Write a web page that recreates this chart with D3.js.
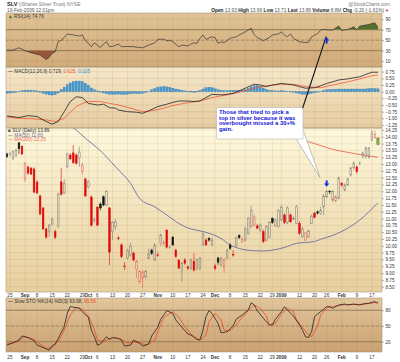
<!DOCTYPE html>
<html>
<head>
<meta charset="utf-8">
<script src="https://cdn.jsdelivr.net/npm/d3@7"></script>
<style>
    body { margin: 0; background: #fff; }
    svg { display: block; font-family: "Liberation Sans", Arial, sans-serif; }
</style>
</head>
<body>
<div id="chart"></div>
<script>
// trading calendar
var firstDay = "2008-08-22", lastDay = "2009-02-19";
var holidays = ["2008-09-01", "2008-11-27", "2008-12-25", "2009-01-01", "2009-01-19", "2009-02-16"];

// daily candles, one value per trading day
var opens = [13.37, 13.35, 13.22, 13.30, 13.78, 13.64, 12.45, 12.89, 12.85, 12.82,
    12.34, 11.83, 11.39, 10.62, 10.52, 10.80, 10.52, 10.70, 12.35, 11.94,
    12.90, 13.33, 13.41, 13.33, 13.22, 12.72, 12.45, 12.16, 11.79, 10.93,
    11.42, 11.53, 11.80, 11.50, 11.39, 10.52, 10.70, 10.29, 10.03, 9.26,
    9.55, 9.66, 9.73, 9.14, 8.68, 8.82, 8.86, 9.55, 9.84, 9.48,
    9.67, 10.09, 10.11, 10.58, 9.94, 10.32, 9.84, 9.48, 9.05, 9.48,
    9.23, 9.18, 9.42, 9.18, 9.18, 10.03, 10.21, 10.27, 10.03, 9.26,
    9.55, 9.29, 9.22, 9.55, 10.03, 9.68, 10.03, 10.38, 10.17, 10.21,
    10.46, 10.70, 10.76, 10.73, 10.58, 10.52, 10.21, 10.31, 11.01, 10.73,
    10.70, 10.95, 11.13, 10.85, 11.13, 11.00, 10.83, 10.82, 10.33, 10.21,
    10.33, 10.83, 11.20, 11.25, 11.19, 11.43, 11.80, 12.00, 11.68, 11.65,
    11.75, 12.29, 12.05, 12.23, 12.60, 12.86, 12.89, 13.03, 13.27, 13.27,
    13.26, 13.88, 13.96, 13.93];
var highs = [13.42, 13.45, 13.50, 13.55, 13.82, 13.70, 13.05, 12.95, 12.90, 12.88,
    12.40, 11.88, 11.42, 10.66, 10.80, 11.05, 10.60, 11.95, 12.86, 12.45,
    13.42, 13.40, 13.70, 13.40, 13.64, 13.04, 12.50, 12.40, 11.85, 11.05,
    11.45, 11.60, 11.85, 12.05, 11.42, 10.90, 10.98, 10.35, 10.10, 9.40,
    9.90, 10.10, 9.80, 9.48, 9.10, 9.11, 9.12, 9.90, 9.90, 10.10,
    9.75, 10.45, 10.20, 10.60, 10.00, 10.35, 9.90, 9.50, 9.40, 9.55,
    9.27, 9.55, 9.73, 9.55, 9.60, 10.50, 10.28, 10.32, 10.30, 9.35,
    9.60, 9.60, 9.55, 9.90, 10.10, 9.84, 10.35, 10.42, 10.30, 10.70,
    11.05, 11.46, 11.15, 10.80, 10.82, 10.60, 10.75, 10.90, 11.05, 11.00,
    11.35, 11.50, 11.20, 11.45, 11.20, 11.08, 11.50, 10.90, 10.70, 10.50,
    10.60, 11.15, 11.25, 11.30, 11.43, 11.90, 12.05, 12.05, 12.05, 11.85,
    12.55, 12.35, 12.30, 12.50, 12.90, 13.10, 12.95, 13.10, 13.45, 13.65,
    13.62, 14.25, 14.23, 13.96];
var lows = [13.22, 13.30, 13.15, 13.28, 13.37, 13.33, 12.35, 12.60, 12.60, 11.93,
    11.90, 11.12, 10.58, 10.26, 10.33, 10.75, 10.25, 10.65, 11.85, 11.90,
    12.85, 13.15, 13.00, 12.98, 12.90, 12.60, 11.80, 12.10, 10.70, 10.85,
    10.72, 11.30, 11.45, 11.45, 9.29, 10.21, 10.58, 10.20, 9.55, 9.11,
    9.50, 9.60, 9.42, 8.81, 8.60, 8.45, 8.80, 9.50, 9.66, 9.45,
    9.60, 10.00, 10.00, 9.90, 9.90, 10.00, 9.55, 9.15, 8.68, 9.30,
    9.12, 9.12, 9.05, 9.10, 9.10, 10.00, 10.00, 10.15, 9.98, 9.10,
    9.30, 9.25, 9.00, 9.50, 9.85, 9.60, 9.95, 10.25, 10.10, 10.15,
    10.40, 10.65, 10.70, 10.60, 10.50, 10.10, 10.15, 10.28, 10.80, 10.70,
    10.65, 10.90, 10.80, 10.80, 10.85, 10.95, 10.80, 10.40, 10.30, 10.18,
    10.30, 10.80, 11.00, 11.15, 11.13, 11.13, 11.75, 11.90, 11.60, 11.60,
    11.70, 12.15, 12.00, 12.20, 12.55, 12.80, 12.65, 12.95, 13.20, 13.20,
    13.20, 13.85, 13.94, 13.71];
var closes = [13.27, 13.37, 13.45, 13.49, 13.56, 13.37, 13.04, 12.67, 12.63, 11.97,
    11.94, 11.17, 10.62, 10.32, 10.76, 10.97, 10.31, 11.90, 11.88, 12.30,
    13.37, 13.19, 13.05, 13.03, 13.44, 12.96, 11.83, 12.35, 10.76, 10.95,
    10.76, 11.39, 11.50, 11.99, 9.77, 10.85, 10.88, 10.27, 9.60, 9.25,
    9.84, 9.99, 9.48, 9.42, 9.05, 9.04, 9.05, 9.70, 9.72, 10.03,
    9.66, 10.40, 10.12, 9.95, 9.96, 10.03, 9.60, 9.18, 9.37, 9.36,
    9.18, 9.48, 9.11, 9.48, 9.55, 10.43, 10.03, 10.21, 10.21, 9.18,
    9.40, 9.55, 9.48, 9.84, 9.91, 9.66, 10.29, 10.30, 10.25, 10.62,
    11.02, 11.31, 11.06, 10.65, 10.76, 10.15, 10.70, 10.85, 10.86, 10.95,
    11.31, 11.42, 10.85, 11.39, 10.88, 11.01, 11.43, 10.46, 10.62, 10.47,
    10.52, 11.09, 11.05, 11.20, 11.31, 11.83, 11.99, 11.99, 11.99, 11.80,
    12.49, 12.23, 12.23, 12.45, 12.86, 13.04, 12.72, 13.04, 13.41, 13.59,
    13.59, 14.14, 14.09, 13.89];

// moving averages, read as [day index, value]
var ma50 = [[19, 14.7], [21, 14.43], [23, 14.25], [26, 13.95], [31, 13.49], [36, 12.9], [41, 12.29],
    [44, 11.74], [49, 11.43], [53, 11.13], [57, 10.82], [61, 10.62], [64, 10.55], [67, 10.46],
    [71, 10.27], [74, 10.03], [76, 9.94], [78, 9.87], [82, 9.82], [85, 9.81], [88, 9.84],
    [92, 9.94], [96, 10.09], [102, 10.16], [104, 10.24], [108, 10.38], [113, 10.65],
    [117, 10.95], [120, 11.25], [123, 11.58]];
var ma200 = [[78, 14.7], [85, 14.4], [90, 14.2], [96, 13.97], [100, 13.82], [104, 13.68],
    [108, 13.54], [113, 13.43], [118, 13.33], [123, 13.25]];

// RSI(14) as [day index, value]
var rsi = [[0, 31], [2, 31], [4, 35.5], [6, 30], [8, 26], [11, 21.5], [13, 13], [14, 17], [15, 25],
    [16, 28], [17, 47], [18, 50], [19, 55], [20, 62], [22, 60], [24, 58], [25, 60], [26, 49],
    [27, 44], [28, 37.5], [29, 45], [31, 36], [32, 42.6], [33, 47], [34, 37.5], [35, 38],
    [37, 42.6], [38, 37.5], [40, 38], [42, 37.5], [44, 36], [45, 35.5], [47, 40.7], [49, 45],
    [50, 51.6], [52, 52], [53, 49], [54, 50], [55, 47], [57, 37.5], [58, 40.7], [60, 39],
    [61, 42.6], [62, 45], [63, 44], [64, 53.5], [65, 60], [66, 51.6], [68, 56.6], [69, 55],
    [70, 44], [71, 47], [72, 45.5], [74, 53.5], [76, 56.6], [77, 60], [79, 66], [81, 72.7],
    [82, 60.4], [83, 55], [85, 49], [87, 55], [88, 60], [90, 62], [91, 66], [92, 60],
    [93, 56.6], [94, 62], [95, 53.5], [97, 47], [99, 45.5], [100, 46], [101, 56.6],
    [103, 62.6], [104, 69.5], [105, 70.7], [107, 69.5], [108, 69.5], [110, 77], [111, 68.6],
    [113, 70.7], [114, 72.7], [115, 75.8], [116, 69.5], [117, 77], [119, 79], [120, 80],
    [121, 82], [122, 83], [123, 74.76]];

// MACD(12,26,9)
var macdLine = [[0, -0.91], [4, -0.97], [7, -0.9], [10, -0.93], [13, -1.12], [15, -1.22], [17, -1.12],
    [19, -0.75], [21, -0.37], [23, -0.19], [25, -0.22], [27, -0.44], [30, -0.5], [32, -0.47],
    [34, -0.6], [36, -0.62], [37, -0.69], [40, -0.75], [43, -0.77], [45, -0.81], [47, -0.72],
    [50, -0.56], [53, -0.47], [55, -0.4], [57, -0.35], [60, -0.35], [62, -0.37], [64, -0.35],
    [66, -0.22], [68, -0.1], [71, -0.12], [73, -0.1], [75, -0.06], [77, 0.03], [79, 0.13],
    [82, 0.28], [84, 0.25], [86, 0.19], [88, 0.25], [91, 0.31], [93, 0.28], [95, 0.25],
    [97, 0.19], [99, 0.13], [102, 0.15], [104, 0.22], [106, 0.31], [108, 0.37], [110, 0.44],
    [113, 0.48], [115, 0.52], [117, 0.56], [119, 0.65], [121, 0.73], [123, 0.729]];
var macdSignal = [[0, -0.94], [4, -1.0], [9, -1.02], [13, -1.06], [16, -1.12], [19, -1.0], [21, -0.77],
    [23, -0.56], [25, -0.44], [27, -0.37], [31, -0.37], [34, -0.44], [37, -0.5], [42, -0.65],
    [45, -0.75], [48, -0.72], [52, -0.62], [55, -0.52], [60, -0.41], [64, -0.35], [68, -0.22],
    [73, -0.12], [77, -0.02], [82, 0.13], [86, 0.22], [91, 0.28], [95, 0.28], [99, 0.19],
    [104, 0.15], [108, 0.25], [113, 0.37], [117, 0.48], [121, 0.6], [123, 0.625]];
var macdHist = [-0.06, -0.05, -0.03, -0.01,
    0.02, 0.04, 0.05, 0.06, 0.05, 0.04, 0.03,
    -0.02, -0.06, -0.09, -0.12, -0.13, -0.11, -0.05,
    0.08, 0.17, 0.26, 0.33, 0.38, 0.40, 0.40, 0.38, 0.32, 0.24,
    0.14, 0.07, 0.03,
    -0.02, -0.05, -0.08, -0.1, -0.11, -0.1, -0.09, -0.1, -0.11, -0.1, -0.08, -0.07, -0.07, -0.08, -0.06, -0.04,
    0.02, 0.07, 0.12, 0.16, 0.18, 0.19, 0.18, 0.16, 0.13,
    0.1, 0.07, 0.05, 0.03, 0.02, 0.01, 0.0, 0.01,
    0.05, 0.1, 0.15, 0.17, 0.15, 0.11, 0.07,
    0.05, 0.04, 0.04, 0.05, 0.05, 0.05, 0.05, 0.06, 0.08, 0.12,
    0.18, 0.22, 0.22, 0.19, 0.14, 0.09,
    0.05, 0.04, 0.03, 0.03, 0.04, 0.03, 0.02, 0.01, -0.02,
    -0.05, -0.08, -0.1, -0.1, -0.09, -0.07, -0.04, -0.02,
    0.02, 0.05, 0.07, 0.08, 0.09, 0.09, 0.1, 0.1, 0.1, 0.1, 0.1, 0.1, 0.1, 0.1, 0.1, 0.1, 0.11, 0.11, 0.11, 0.105];

// Slow stochastics
var stoK = [[0, 13.6], [2, 18], [4, 23], [5, 31], [7, 28], [9, 22], [10, 13.6], [12, 9], [14, 4], [15, 11.7],
    [16, 15.5], [17, 26], [19, 48.7], [20, 74], [21, 87], [22, 86], [24, 84], [25, 77], [27, 66.7],
    [28, 42], [29, 29.5], [30, 13.6], [31, 15.5], [33, 29.5], [34, 24.5], [35, 28], [37, 26],
    [38, 23], [39, 11.7], [41, 13.6], [42, 23], [44, 17], [45, 11.7], [47, 15.5], [48, 31],
    [50, 47.5], [51, 63], [53, 79.3], [55, 74], [56, 61.5], [58, 47.5], [60, 34.7], [61, 32.8],
    [63, 24.5], [64, 23.5], [65, 42], [66, 68], [67, 79.3], [68, 74], [70, 55], [71, 37],
    [73, 39], [75, 50], [76, 63], [78, 71], [80, 80.6], [81, 94.6], [82, 90], [83, 79.3],
    [85, 64.7], [87, 52], [88, 52], [89, 63], [91, 77.4], [92, 87], [93, 80.6], [95, 69],
    [97, 52], [98, 42], [99, 29.5], [100, 28], [101, 39], [102, 68], [104, 77.4], [106, 87],
    [107, 87], [108, 84], [110, 90], [112, 92], [113, 90], [115, 92], [117, 90], [118, 92],
    [120, 93.5], [122, 96.6], [123, 93.08]];
var stoD = [[0, 15.5], [2, 17], [4, 22], [6, 29.5], [9, 24.5], [11, 15.5], [13, 7], [15, 10], [17, 20],
    [19, 42], [21, 71], [23, 86], [25, 82], [27, 69], [29, 43.7], [30, 23], [32, 20], [34, 26],
    [36, 28], [38, 24.5], [40, 17], [42, 20], [44, 18], [46, 13.6], [49, 23], [50, 39],
    [52, 66.7], [55, 77.4], [57, 66.7], [59, 48.7], [61, 34.7], [63, 26], [64, 23], [66, 32.8],
    [67, 58], [69, 74], [71, 61.5], [72, 42], [74, 41], [76, 52], [78, 66.7], [80, 79.3],
    [82, 90], [84, 84], [86, 69], [87, 52], [89, 55], [91, 73], [93, 84], [95, 77.4],
    [96, 61.5], [98, 47.5], [100, 32.8], [101, 29.5], [103, 50], [104, 71], [106, 84],
    [108, 87], [111, 90], [113, 91], [116, 91], [119, 92], [122, 94.6], [123, 95.56]];

// axis ticks
var tickDates = ["2008-08-25", "2008-09-02", "2008-09-08", "2008-09-15", "2008-09-22", "2008-09-29",
    "2008-10-01", "2008-10-06", "2008-10-13", "2008-10-20", "2008-10-27", "2008-11-03", "2008-11-10",
    "2008-11-17", "2008-11-24", "2008-12-01", "2008-12-08", "2008-12-15", "2008-12-22", "2008-12-29",
    "2009-01-02", "2009-01-12", "2009-01-20", "2009-01-26", "2009-02-02", "2009-02-09", "2009-02-17"];
var tickLabels = ["25", "Sep", "8", "15", "22", "29", "Oct", "6", "13", "20", "27", "Nov", "10",
    "17", "24", "Dec", "8", "15", "22", "29", "2009", "12", "20", "26", "Feb", "9", "17"];
var priceTicks = [14.25, 14.00, 13.75, 13.50, 13.25, 13.00, 12.75, 12.50, 12.25, 12.00, 11.75, 11.50,
    11.25, 11.00, 10.75, 10.50, 10.25, 10.00, 9.75, 9.50, 9.25, 9.00, 8.75, 8.50];
var macdTicks = [0.75, 0.50, 0.25, 0.00, -0.25, -0.50, -0.75, -1.00, -1.25];
var rsiTicks = [90, 70, 50, 30, 10];
var stoTicks = [80, 50, 20];

var noteLines = ["Those that tried to pick a", "top in silver because it was", "overbought missed a 30+%", "gain."];

var fmt = d3.timeFormat("%Y-%m-%d");
var days = d3.timeDay.range(d3.timeParse("%Y-%m-%d")(firstDay), d3.timeDay.offset(d3.timeParse("%Y-%m-%d")(lastDay), 1))
    .filter(function (d) { return d.getDay() !== 0 && d.getDay() !== 6 && holidays.indexOf(fmt(d)) < 0; })
    .map(fmt);

var left = 6, right = 382;
var svg = d3.select("#chart").append("svg").attr("width", 400).attr("height", 362);
var defs = svg.append("defs");

var x = d3.scaleBand().domain(days).range([5.8, 5.8 + days.length * 3.01]).paddingInner(0.27);
var bw = x.bandwidth();
function xi(i) { return x(days[i]) + bw / 2; }

var yRsi = d3.scaleLinear().domain([0, 100]).range([66.3, 14.1]);
var yMacd = d3.scaleLinear().domain([-1.25, 0.75]).range([125, 71.7]);
var yPrice = d3.scaleLinear().domain([8.5, 14.25]).range([286.7, 130]);
var ySto = d3.scaleLinear().domain([0, 100]).range([352.2, 299.8]);

var panels = [
    {id: "rsi", top: 13, bottom: 67, c0: "#e0c397", c1: "#d1aa79", y: yRsi, ticks: rsiTicks, f: d3.format("d")},
    {id: "macd", top: 67, bottom: 128, c0: "#f5e7c9", c1: "#e6cda2", y: yMacd, ticks: macdTicks, f: d3.format(".2f")},
    {id: "price", top: 128, bottom: 292, c0: "#fdf8dc", c1: "#e8cf9e", y: yPrice, ticks: priceTicks, f: d3.format(".2f")},
    {id: "sto", top: 298, bottom: 352, c0: "#e1c69c", c1: "#caa171", y: ySto, ticks: stoTicks, f: d3.format("d")}
];

var layer = {};
panels.forEach(function (p) {
    var g = defs.append("linearGradient").attr("id", "bg-" + p.id).attr("x1", 0).attr("y1", 0).attr("x2", 0).attr("y2", 1);
    g.append("stop").attr("offset", "0%").attr("stop-color", p.c0);
    g.append("stop").attr("offset", "100%").attr("stop-color", p.c1);
    defs.append("clipPath").attr("id", "clip-" + p.id).append("rect")
        .attr("x", left).attr("y", p.top).attr("width", right - left).attr("height", p.bottom - p.top);

    svg.append("rect")
        .attr("x", left).attr("y", p.top).attr("width", right - left).attr("height", p.bottom - p.top)
        .attr("fill", "url(#bg-" + p.id + ")");

    var grid = svg.append("g").attr("clip-path", "url(#clip-" + p.id + ")");
    grid.selectAll("line.v").data(tickDates).enter().append("line")
        .attr("x1", function (d) { return x(d) + bw / 2; })
        .attr("x2", function (d) { return x(d) + bw / 2; })
        .attr("y1", p.top).attr("y2", p.bottom)
        .attr("stroke", "#8a6a3a").attr("stroke-opacity", 0.18).attr("stroke-width", 0.6);
    grid.selectAll("line.h").data(p.ticks).enter().append("line")
        .attr("x1", left).attr("x2", right)
        .attr("y1", function (d) { return p.y(d); })
        .attr("y2", function (d) { return p.y(d); })
        .attr("stroke", "#8a6a3a").attr("stroke-opacity", 0.18).attr("stroke-width", 0.6);

    layer[p.id] = svg.append("g").attr("clip-path", "url(#clip-" + p.id + ")");

    var ax = svg.append("g").attr("transform", "translate(" + right + ",0)")
        .call(d3.axisRight(p.y).tickValues(p.ticks).tickFormat(p.f).tickSize(2).tickPadding(1.5));
    ax.select(".domain").remove();
    ax.selectAll("line").attr("stroke", "#666").attr("stroke-width", 0.5);
    ax.selectAll("text").attr("font-size", "4.6px").attr("fill", "#333").attr("font-family", "Liberation Sans, Arial, sans-serif");
});

// reference lines for oscillators
function refLines(g, y, lo, hi) {
    [lo, hi].forEach(function (v) {
        g.append("line").attr("x1", left).attr("x2", right).attr("y1", y(v)).attr("y2", y(v))
            .attr("stroke", "#8c7457").attr("stroke-width", 0.8);
    });
    g.append("line").attr("x1", left).attr("x2", right).attr("y1", y(50)).attr("y2", y(50))
        .attr("stroke", "#8c7457").attr("stroke-width", 0.6).attr("stroke-dasharray", "3,2");
}

// RSI
var gR = layer.rsi;
refLines(gR, yRsi, 30, 70);
defs.append("clipPath").attr("id", "rsi-hi").append("rect")
    .attr("x", left).attr("y", 13).attr("width", right - left).attr("height", yRsi(70) - 13);
defs.append("clipPath").attr("id", "rsi-lo").append("rect")
    .attr("x", left).attr("y", yRsi(30)).attr("width", right - left).attr("height", 67 - yRsi(30));
gR.append("path").datum(rsi).attr("clip-path", "url(#rsi-hi)")
    .attr("d", d3.area().x(function (d) { return xi(d[0]); }).y0(yRsi(70)).y1(function (d) { return yRsi(d[1]); }))
    .attr("fill", "#54702e");
gR.append("path").datum(rsi).attr("clip-path", "url(#rsi-lo)")
    .attr("d", d3.area().x(function (d) { return xi(d[0]); }).y0(yRsi(30)).y1(function (d) { return yRsi(d[1]); }))
    .attr("fill", "#9a5538");
gR.append("path").datum(rsi)
    .attr("d", d3.line().x(function (d) { return xi(d[0]); }).y(function (d) { return yRsi(d[1]); }))
    .attr("fill", "none").attr("stroke", "#333").attr("stroke-width", 0.7);

// MACD
var gM = layer.macd;
gM.append("line").attr("x1", left).attr("x2", right).attr("y1", yMacd(0)).attr("y2", yMacd(0))
    .attr("stroke", "#888").attr("stroke-width", 0.4).attr("stroke-dasharray", "2,2");
gM.selectAll("rect.h").data(macdHist).enter().append("rect")
    .attr("x", function (d, i) { return xi(i) - bw / 2; })
    .attr("width", bw)
    .attr("y", function (d) { return yMacd(Math.max(0, d)); })
    .attr("height", function (d) { return Math.max(0.5, Math.abs(yMacd(d) - yMacd(0))); })
    .attr("fill", "#3f9ad6").attr("stroke", "#2670a8").attr("stroke-width", 0.3);
gM.append("path").datum(macdSignal)
    .attr("d", d3.line().x(function (d) { return xi(d[0]); }).y(function (d) { return yMacd(d[1]); }))
    .attr("fill", "none").attr("stroke", "#f0553a").attr("stroke-width", 0.8);
gM.append("path").datum(macdLine)
    .attr("d", d3.line().x(function (d) { return xi(d[0]); }).y(function (d) { return yMacd(d[1]); }))
    .attr("fill", "none").attr("stroke", "#222").attr("stroke-width", 0.8);

// price candles
var gP = layer.price;
gP.append("path").datum(ma50)
    .attr("d", d3.line().curve(d3.curveMonotoneX).x(function (d) { return xi(d[0]); }).y(function (d) { return yPrice(d[1]); }))
    .attr("fill", "none").attr("stroke", "#6d6c9e").attr("stroke-width", 0.9);
gP.append("path").datum(ma200)
    .attr("d", d3.line().curve(d3.curveMonotoneX).x(function (d) { return xi(d[0]); }).y(function (d) { return yPrice(d[1]); }))
    .attr("fill", "none").attr("stroke", "#ee6a55").attr("stroke-width", 0.9);

closes.forEach(function (c, i) {
    var o = opens[i], hi = highs[i], lo = lows[i];
    var cx = xi(i);
    if (i === closes.length - 1) {
        gP.append("rect").attr("x", cx - bw / 2).attr("width", bw)
            .attr("y", yPrice(hi)).attr("height", yPrice(lo) - yPrice(hi))
            .attr("fill", "#3be03b").attr("stroke", "#e02020").attr("stroke-width", 0.5);
        return;
    }
    var down = i > 0 && c < closes[i - 1];
    var hollow = c >= o;
    var col = down ? (hollow ? "#e0605a" : "#dd0a0a") : (hollow ? "#777" : "#111");
    var yt = yPrice(Math.max(o, c)), yb = yPrice(Math.min(o, c));
    gP.append("line").attr("x1", cx).attr("x2", cx).attr("y1", yPrice(hi)).attr("y2", yt)
        .attr("stroke", col).attr("stroke-width", 0.6);
    gP.append("line").attr("x1", cx).attr("x2", cx).attr("y1", yb).attr("y2", yPrice(lo))
        .attr("stroke", col).attr("stroke-width", 0.6);
    gP.append("rect").attr("x", cx - bw / 2 + 0.25).attr("width", bw - 0.5)
        .attr("y", yt).attr("height", Math.max(0.6, yb - yt))
        .attr("fill", hollow ? "none" : col).attr("stroke", col).attr("stroke-width", 0.5);
});

// stochastics
var gS = layer.sto;
refLines(gS, ySto, 20, 80);
gS.append("path").datum(stoD)
    .attr("d", d3.line().x(function (d) { return xi(d[0]); }).y(function (d) { return ySto(d[1]); }))
    .attr("fill", "none").attr("stroke", "#f04a2a").attr("stroke-width", 0.8);
gS.append("path").datum(stoK)
    .attr("d", d3.line().x(function (d) { return xi(d[0]); }).y(function (d) { return ySto(d[1]); }))
    .attr("fill", "none").attr("stroke", "#222").attr("stroke-width", 0.8);

// panel borders
panels.forEach(function (p) {
    svg.append("rect").attr("x", left).attr("y", p.top).attr("width", right - left).attr("height", p.bottom - p.top)
        .attr("fill", "none").attr("stroke", "#9c8c70").attr("stroke-width", 0.5);
});

// date labels
[296.8, 358.6].forEach(function (yy) {
    svg.append("g").selectAll("text").data(tickDates).enter().append("text")
        .attr("x", function (d) { return x(d) + bw / 2; })
        .attr("y", yy)
        .attr("text-anchor", "middle")
        .attr("font-size", "4.6px")
        .attr("font-weight", function (d, i) { return isNaN(+tickLabels[i]) || tickLabels[i].length === 4 ? "bold" : "normal"; })
        .attr("fill", "#333")
        .text(function (d, i) { return tickLabels[i]; });
});

// header
var hd = svg.append("text").attr("x", 7).attr("y", 6).attr("font-size", "5px").attr("fill", "#777");
hd.append("tspan").attr("font-weight", "bold").attr("fill", "#222").attr("font-size", "5.6px").text("SLV");
hd.append("tspan").text(" (iShares Silver Trust) NYSE");
svg.append("text").attr("x", 7).attr("y", 11.8).attr("font-size", "4.8px").attr("fill", "#555").text("19-Feb-2009 12:01pm");
svg.append("text").attr("x", 390).attr("y", 5.5).attr("text-anchor", "end").attr("font-size", "4.8px").attr("fill", "#777").text("@StockCharts.com");

var quote = [["Open", "13.93"], ["High", "13.96"], ["Low", "13.71"], ["Last", "13.89"], ["Volume", "8.8M"], ["Chg", "-0.20 (-1.61%)"]];
var qt = svg.append("text").attr("x", 384).attr("y", 11.8).attr("text-anchor", "end").attr("font-size", "4.8px").attr("fill", "#555");
quote.forEach(function (q) {
    qt.append("tspan").attr("font-weight", "bold").attr("fill", "#222").text(q[0] + " ");
    qt.append("tspan").text(q[1] + " ");
});
svg.append("text").attr("x", 385).attr("y", 11.8).attr("font-size", "4px").attr("fill", "#d00").text("▼");

// panel legends
function legend(yy, parts) {
    var t = svg.append("text").attr("x", 8).attr("y", yy).attr("font-size", "4.8px").attr("fill", "#333");
    parts.forEach(function (p) { t.append("tspan").attr("fill", p[1] || "#333").text(p[0]); });
}
legend(17.5, [["▲ ", "#3b6b1e"], ["RSI(14) 74.76"]]);
legend(73, [["— ", "#222"], ["MACD(12,26,9) 0.729, "], ["0.625", "#f0553a"], [", "], ["0.105", "#2f8fd0"]]);
legend(132, [["■ ", "#555"], ["SLV (Daily) 13.89"]]);
legend(136.5, [["— ", "#6d6c9e"], ["MA(50) 11.60", "#6d6c9e"]]);
legend(141, [["— ", "#ee6a55"], ["MA(200) 13.25", "#ee6a55"]]);
legend(303, [["— ", "#222"], ["Slow STO %K(14) %D(3) 93.08, "], ["95.56", "#f04a2a"]]);

// annotation: arrows and callout
var arrow = "l-2.6,-3.2h1.6v-3h2v3h1.6z";
var ry = yRsi(67.5);
svg.append("line").attr("x1", 301.7).attr("y1", 111).attr("x2", xi(106) - 0.5).attr("y2", ry + 5.5)
    .attr("stroke", "#111").attr("stroke-width", 1.1);
svg.append("path").attr("d", "M" + xi(106) + "," + ry + arrow)
    .attr("transform", "rotate(180," + xi(106) + "," + (ry + 3.1) + ")")
    .attr("fill", "#1030ee");
var ay = yPrice(12.17);
svg.append("path").attr("d", "M" + xi(106) + "," + ay + arrow).attr("fill", "#1030ee");
svg.append("path").attr("d", "M296,138.6L303.5,131L320,177.5Z")
    .attr("fill", "#fff").attr("stroke", "#8c8c8c").attr("stroke-width", 0.5);
svg.append("rect").attr("x", 216.5).attr("y", 107.5).attr("width", 86.5).attr("height", 31.5).attr("rx", 1.5)
    .attr("fill", "#fff").attr("stroke", "#a8a8a8").attr("stroke-width", 0.5);
svg.append("path").attr("d", "M296.6,138.6L303.2,131.6").attr("stroke", "#fff").attr("stroke-width", 1);
svg.append("g").selectAll("text").data(noteLines).enter().append("text")
    .attr("x", 219).attr("y", function (d, i) { return 113.8 + i * 5.8; })
    .attr("font-size", "5.9px").attr("fill", "#1414d2").attr("font-weight", "bold")
    .text(function (d) { return d; });
</script>
</body>
</html>
